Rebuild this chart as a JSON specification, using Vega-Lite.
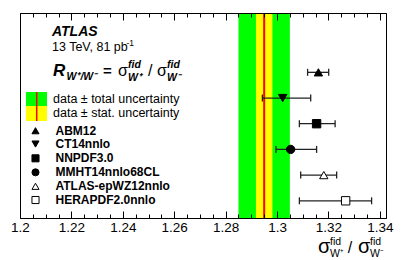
{
  "$schema": "https://vega.github.io/schema/vega-lite/v6.json",
  "width": 366,
  "height": 205,
  "autosize": {"type": "none"},
  "padding": {"left": 20, "top": 13, "right": 21, "bottom": 42},
  "background": "white",
  "config": {
    "view": {"stroke": "black", "strokeWidth": 1},
    "font": "Liberation Sans",
    "text": {"font": "Liberation Sans", "color": "black"}
  },
  "datasets": {
    "pdfs": [
      {"pdf": "ABM12", "row": 6, "value": 1.3161, "lo": 1.3119, "hi": 1.3201, "ly": 3.727},
      {"pdf": "CT14nnlo", "row": 5, "value": 1.3022, "lo": 1.2943, "hi": 1.3131, "ly": 3.209},
      {"pdf": "NNPDF3.0", "row": 4, "value": 1.3154, "lo": 1.3087, "hi": 1.3226, "ly": 2.653},
      {"pdf": "MMHT14nnlo68CL", "row": 3, "value": 1.3053, "lo": 1.2996, "hi": 1.3154, "ly": 2.108},
      {"pdf": "ATLAS-epWZ12nnlo", "row": 2, "value": 1.3182, "lo": 1.3092, "hi": 1.3232, "ly": 1.563},
      {"pdf": "HERAPDF2.0nnlo", "row": 1, "value": 1.3267, "lo": 1.3087, "hi": 1.3368, "ly": 1.03}
    ],
    "meas": [
      {"value": 1.295, "stat_lo": 1.2918, "stat_hi": 1.2982, "tot_lo": 1.285, "tot_hi": 1.305}
    ]
  },
  "resolve": {"axis": {"x": "independent"}},
  "layer": [
    {
      "data": {"name": "meas"},
      "mark": {"type": "rect", "color": "#00ff00"},
      "encoding": {
        "x": {
          "field": "tot_lo", "type": "quantitative",
          "scale": {"domain": [1.2, 1.3424], "nice": false, "zero": false},
          "axis": {
            "orient": "bottom",
            "values": [1.2,1.205,1.21,1.215,1.22,1.225,1.23,1.235,1.24,1.245,1.25,1.255,1.26,1.265,1.27,1.275,1.28,1.285,1.29,1.295,1.3,1.305,1.31,1.315,1.32,1.325,1.33,1.335,1.34],
            "tickSize": {"condition": {"test": "abs(datum.value*50 - round(datum.value*50)) < 0.01", "value": -7}, "value": -4},
            "labelExpr": "abs(datum.value*50 - round(datum.value*50)) < 0.01 ? format(datum.value, '~g') : ''",
            "tickColor": "black", "domainColor": "black", "tickWidth": 1, "domainWidth": 1,
            "labelFont": "Liberation Sans", "labelFontSize": 13.5, "labelColor": "black",
            "labelPadding": 9, "labelFlush": false, "labelOverlap": false,
            "grid": false, "title": null, "zindex": 1
          }
        },
        "x2": {"field": "tot_hi"},
        "y": {"datum": 0.33, "type": "quantitative", "scale": {"domain": [0.33, 8.31], "nice": false, "zero": false}, "axis": null},
        "y2": {"datum": 8.31}
      }
    },
    {
      "data": {"name": "meas"},
      "mark": {"type": "rect", "color": "#ffff00"},
      "encoding": {
        "x": {
          "field": "stat_lo", "type": "quantitative",
          "axis": {
            "orient": "top",
            "values": [1.2,1.205,1.21,1.215,1.22,1.225,1.23,1.235,1.24,1.245,1.25,1.255,1.26,1.265,1.27,1.275,1.28,1.285,1.29,1.295,1.3,1.305,1.31,1.315,1.32,1.325,1.33,1.335,1.34],
            "tickSize": {"condition": {"test": "abs(datum.value*50 - round(datum.value*50)) < 0.01", "value": -7}, "value": -4},
            "labels": false,
            "tickColor": "black", "domainColor": "black", "tickWidth": 1, "domainWidth": 1,
            "grid": false, "title": null, "zindex": 1
          }
        },
        "x2": {"field": "stat_hi"},
        "y": {"datum": 0.33, "type": "quantitative"},
        "y2": {"datum": 8.31}
      }
    },
    {
      "data": {"name": "meas"},
      "mark": {"type": "rule", "color": "#ff0000", "strokeWidth": 2},
      "encoding": {
        "x": {"field": "value", "type": "quantitative", "axis": null},
        "y": {"datum": 0.33, "type": "quantitative"},
        "y2": {"datum": 8.31}
      }
    },
    {
      "data": {"name": "pdfs"},
      "mark": {"type": "rule", "color": "#222222", "strokeWidth": 1.3},
      "encoding": {
        "x": {"field": "lo", "type": "quantitative", "axis": null},
        "x2": {"field": "hi"},
        "y": {"field": "row", "type": "quantitative"}
      }
    },
    {
      "data": {"name": "pdfs"},
      "mark": {"type": "tick", "orient": "vertical", "color": "#222222", "thickness": 1.3, "size": 7, "opacity": 1},
      "encoding": {
        "x": {"field": "lo", "type": "quantitative", "axis": null},
        "y": {"field": "row", "type": "quantitative"}
      }
    },
    {
      "data": {"name": "pdfs"},
      "mark": {"type": "tick", "orient": "vertical", "color": "#222222", "thickness": 1.3, "size": 7, "opacity": 1},
      "encoding": {
        "x": {"field": "hi", "type": "quantitative", "axis": null},
        "y": {"field": "row", "type": "quantitative"}
      }
    },
    {
      "data": {"name": "pdfs"},
      "mark": {"type": "point", "size": 70, "stroke": "black", "strokeWidth": 1, "opacity": 1, "fillOpacity": 1},
      "encoding": {
        "x": {"field": "value", "type": "quantitative", "axis": null},
        "y": {"field": "row", "type": "quantitative"},
        "shape": {
          "field": "pdf", "type": "nominal", "legend": null,
          "scale": {
            "domain": ["ABM12", "CT14nnlo", "NNPDF3.0", "MMHT14nnlo68CL", "ATLAS-epWZ12nnlo", "HERAPDF2.0nnlo"],
            "range": ["triangle-up", "triangle-down", "square", "circle", "triangle-up", "square"]
          }
        },
        "fill": {
          "field": "pdf", "type": "nominal", "legend": null,
          "scale": {
            "domain": ["ABM12", "CT14nnlo", "NNPDF3.0", "MMHT14nnlo68CL", "ATLAS-epWZ12nnlo", "HERAPDF2.0nnlo"],
            "range": ["black", "black", "black", "black", "white", "white"]
          }
        }
      }
    },
    {
      "data": {"values": [{"k": 1}]},
      "mark": {"type": "rect", "color": "#00ff00"},
      "encoding": {
        "x": {"datum": 1.20233, "type": "quantitative", "axis": null},
        "x2": {"datum": 1.21051},
        "y": {"datum": 4.688, "type": "quantitative"},
        "y2": {"datum": 5.233}
      }
    },
    {
      "data": {"values": [{"k": 1}]},
      "mark": {"type": "rect", "color": "#ffff00"},
      "encoding": {
        "x": {"datum": 1.20233, "type": "quantitative", "axis": null},
        "x2": {"datum": 1.21051},
        "y": {"datum": 4.104, "type": "quantitative"},
        "y2": {"datum": 4.688}
      }
    },
    {
      "data": {"values": [{"k": 1}]},
      "mark": {"type": "rule", "color": "#ff0000", "strokeWidth": 1.5},
      "encoding": {
        "x": {"datum": 1.2065, "type": "quantitative", "axis": null},
        "y": {"datum": 4.104, "type": "quantitative"},
        "y2": {"datum": 5.233}
      }
    },
    {
      "data": {"name": "pdfs"},
      "mark": {"type": "point", "size": 50, "stroke": "black", "strokeWidth": 1, "opacity": 1, "fillOpacity": 1},
      "encoding": {
        "x": {"datum": 1.20603, "type": "quantitative", "axis": null},
        "y": {"field": "ly", "type": "quantitative"},
        "shape": {"field": "pdf", "type": "nominal", "legend": null},
        "fill": {"field": "pdf", "type": "nominal", "legend": null}
      }
    },
    {
      "data": {"name": "pdfs"},
      "mark": {"type": "text", "align": "left", "baseline": "middle", "fontSize": 12, "fontWeight": "bold"},
      "encoding": {
        "x": {"datum": 1.21381, "type": "quantitative", "axis": null},
        "y": {"field": "ly", "type": "quantitative"},
        "text": {"field": "pdf"}
      }
    },
    {
      "data": {"values": [
        {"t": "data ± total uncertainty", "x": 1.21284, "y": 4.96},
        {"t": "data ± stat. uncertainty", "x": 1.21284, "y": 4.416}
      ]},
      "mark": {"type": "text", "align": "left", "baseline": "middle", "fontSize": 12.5},
      "encoding": {
        "x": {"field": "x", "type": "quantitative", "axis": null},
        "y": {"field": "y", "type": "quantitative"},
        "text": {"field": "t"}
      }
    },
    {
      "data": {"values": [{"t": "ATLAS", "x": 1.21245, "y": 7.412}]},
      "mark": {"type": "text", "align": "left", "baseline": "alphabetic", "fontSize": 14, "fontWeight": "bold", "fontStyle": "italic"},
      "encoding": {
        "x": {"field": "x", "type": "quantitative", "axis": null},
        "y": {"field": "y", "type": "quantitative"},
        "text": {"field": "t"}
      }
    },
    {
      "data": {"values": [{"t": "13 TeV, 81 pb", "x": 1.21245, "y": 6.828}]},
      "mark": {"type": "text", "align": "left", "baseline": "alphabetic", "fontSize": 12.5},
      "encoding": {
        "x": {"field": "x", "type": "quantitative", "axis": null},
        "y": {"field": "y", "type": "quantitative"},
        "text": {"field": "t"}
      }
    },
    {
      "data": {"values": [{"t": "-1", "x": 1.2414, "y": 7.02}]},
      "mark": {"type": "text", "align": "left", "baseline": "alphabetic", "fontSize": 8.5},
      "encoding": {
        "x": {"field": "x", "type": "quantitative", "axis": null},
        "y": {"field": "y", "type": "quantitative"},
        "text": {"field": "t"}
      }
    },
    {
      "data": {"values": [{"t": "R", "x": 1.21284, "y": 5.855}]},
      "mark": {"type": "text", "align": "left", "baseline": "alphabetic", "fontSize": 17, "fontWeight": "bold", "fontStyle": "italic"},
      "encoding": {
        "x": {"field": "x", "type": "quantitative", "axis": null},
        "y": {"field": "y", "type": "quantitative"},
        "text": {"field": "t"}
      }
    },
    {
      "data": {"values": [
        {"t": "W⁺/W⁻", "x": 1.21809, "y": 5.7},
        {"t": "fid", "x": 1.24202, "y": 6.167},
        {"t": "W⁺", "x": 1.24202, "y": 5.661},
        {"t": "fid", "x": 1.2572, "y": 6.167},
        {"t": "W⁻", "x": 1.2572, "y": 5.661}
      ]},
      "mark": {"type": "text", "align": "left", "baseline": "alphabetic", "fontSize": 10.5, "fontWeight": "bold", "fontStyle": "italic"},
      "encoding": {
        "x": {"field": "x", "type": "quantitative", "axis": null},
        "y": {"field": "y", "type": "quantitative"},
        "text": {"field": "t"}
      }
    },
    {
      "data": {"values": [
        {"t": "=", "x": 1.23229, "y": 5.855}
      ]},
      "mark": {"type": "text", "align": "left", "baseline": "alphabetic", "fontSize": 15, "fontWeight": "bold"},
      "encoding": {
        "x": {"field": "x", "type": "quantitative", "axis": null},
        "y": {"field": "y", "type": "quantitative"},
        "text": {"field": "t"}
      }
    },
    {
      "data": {"values": [
        {"t": "σ", "x": 1.23813, "y": 5.855},
        {"t": "/", "x": 1.24981, "y": 5.855},
        {"t": "σ", "x": 1.25331, "y": 5.855}
      ]},
      "mark": {"type": "text", "align": "left", "baseline": "alphabetic", "fontSize": 16},
      "encoding": {
        "x": {"field": "x", "type": "quantitative", "axis": null},
        "y": {"field": "y", "type": "quantitative"},
        "text": {"field": "t"}
      }
    },
    {
      "data": {"values": [
        {"t": "σ", "x": 1.31595, "y": -1.032},
        {"t": "σ", "x": 1.33152, "y": -1.032}
      ]},
      "mark": {"type": "text", "align": "left", "baseline": "alphabetic", "fontSize": 20},
      "encoding": {
        "x": {"field": "x", "type": "quantitative", "axis": null},
        "y": {"field": "y", "type": "quantitative"},
        "text": {"field": "t"}
      }
    },
    {
      "data": {"values": [
        {"t": "fid", "x": 1.32062, "y": -0.721},
        {"t": "W⁺", "x": 1.32062, "y": -1.188},
        {"t": "fid", "x": 1.33619, "y": -0.721},
        {"t": "W⁻", "x": 1.33619, "y": -1.188}
      ]},
      "mark": {"type": "text", "align": "left", "baseline": "alphabetic", "fontSize": 10.5},
      "encoding": {
        "x": {"field": "x", "type": "quantitative", "axis": null},
        "y": {"field": "y", "type": "quantitative"},
        "text": {"field": "t"}
      }
    },
    {
      "data": {"values": [{"t": "/", "x": 1.3284, "y": -1.032}]},
      "mark": {"type": "text", "align": "center", "baseline": "alphabetic", "fontSize": 16},
      "encoding": {
        "x": {"field": "x", "type": "quantitative", "axis": null},
        "y": {"field": "y", "type": "quantitative"},
        "text": {"field": "t"}
      }
    }
  ]
}
